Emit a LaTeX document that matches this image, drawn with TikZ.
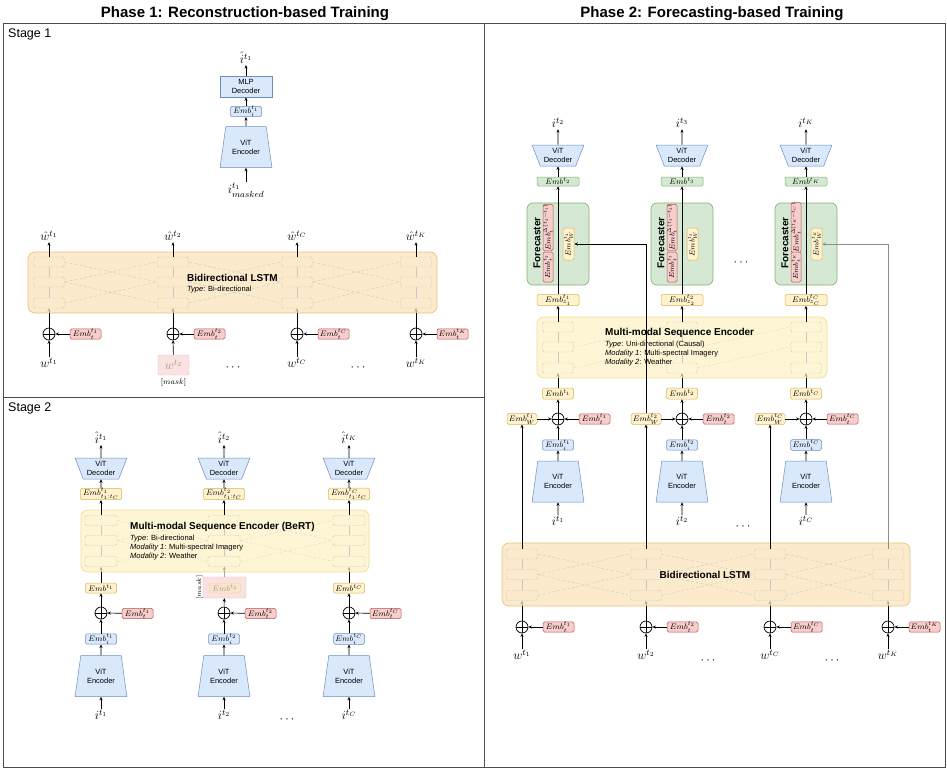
\RequirePackage{fix-cm}
\documentclass[tikz,border=0pt]{standalone}
\usepackage[no-math]{fontspec}
\setmainfont{Liberation Sans}
\usepackage{graphicx}
\usetikzlibrary{arrows.meta,positioning,shapes.geometric}

\newcommand{\embfont}{\fontsize{8}{9}\selectfont}
\newcommand{\rotfont}{\fontsize{7.3}{8}\selectfont}
\newcommand{\lblfont}{\fontsize{12.5}{14}\selectfont}
\newcommand{\boxfont}{\fontsize{7.5}{9.3}\selectfont}
\newcommand{\ttlfont}{\fontsize{10}{12}\selectfont\bfseries}
\newcommand{\typfont}{\fontsize{7.5}{9}\selectfont}

\begin{document}
\begin{tikzpicture}[x=1pt,y=-1pt,
    emb/.style={draw,rounded corners=1.5pt,inner sep=0pt,minimum width=31,minimum height=10,font=\embfont,line width=0.5pt},
    embb/.style={emb,draw=bluD,fill=bluF},
    embr/.style={emb,draw=redD,fill=redF},
    emby/.style={emb,draw=yelD,fill=yelF},
    embg/.style={emb,draw=grnD,fill=grnF},
    vitenc/.style={trapezium,trapezium stretches=true,trapezium left angle=75,trapezium right angle=75,
        minimum width=52,minimum height=41,draw=bluD,fill=bluF,inner sep=0pt,align=center,font=\boxfont,line width=0.5pt},
    vitdec/.style={vitenc,shape border rotate=180,trapezium left angle=66,trapezium right angle=66,minimum height=21},
    oplus/.style={circle,draw,line width=0.7pt,minimum size=12,inner sep=0pt,
        path picture={\draw[line width=0.7pt] (path picture bounding box.north) -- (path picture bounding box.south)
                      (path picture bounding box.west) -- (path picture bounding box.east);}},
    lbl/.style={font=\lblfont,inner sep=1pt},
    arr/.style={-{Stealth[length=3.5pt,width=3pt]},line width=0.6pt},
    faint/.style={arr,draw=black!35},
    cell/.style={draw=black!25,dash pattern=on 1.5pt off 1pt,rounded corners=1.5pt,minimum width=31,minimum height=10,inner sep=0pt,line width=0.4pt},
    link/.style={draw=black!22,densely dashed,line width=0.35pt},
    lstm/.style={draw=orgD,fill=orgF,rounded corners=7pt,line width=0.7pt,inner sep=0pt},
    seqenc/.style={draw=encD,fill=encF,rounded corners=7pt,line width=0.7pt,inner sep=0pt},
    fcast/.style={draw=grnD,fill=grnF,rounded corners=6pt,minimum width=62,minimum height=82,inner sep=0pt,line width=0.6pt},
    masked/.style={draw=redD!40,fill=redF!60,rounded corners=2pt,inner sep=0pt}
]
    \definecolor{bluF}{RGB}{218,232,252}
    \definecolor{bluD}{RGB}{108,142,191}
    \definecolor{redF}{RGB}{248,206,204}
    \definecolor{redD}{RGB}{184,84,80}
    \definecolor{yelF}{RGB}{255,242,204}
    \definecolor{yelD}{RGB}{214,182,86}
    \definecolor{grnF}{RGB}{213,232,212}
    \definecolor{grnD}{RGB}{130,179,102}
    \definecolor{orgF}{RGB}{252,234,204}
    \definecolor{orgD}{RGB}{232,196,125}
    \definecolor{encF}{RGB}{254,245,212}
    \definecolor{encD}{RGB}{240,220,150}

    \useasboundingbox (0,0) rectangle (947,768);

    % frames
    \draw[black!70,line width=0.8pt] (3,23) rectangle (945,767.5);
    \draw[black!70,line width=0.8pt] (484,23) -- (484,767.5);
    \draw[black!70,line width=0.8pt] (3,397) -- (484,397);
    \node (ttl1) [font={\fontsize{15}{18}\selectfont\bfseries}] at (245,14) {Phase 1: Reconstruction-based Training};
    \node (ttl2) [font={\fontsize{15}{18}\selectfont\bfseries}] at (712,14) {Phase 2: Forecasting-based Training};
    \node (stg1) [anchor=west,inner sep=0pt,font=\lblfont] at (8,34) {Stage 1};
    \node (stg2) [anchor=west,inner sep=0pt,font=\lblfont] at (8,408) {Stage 2};

    % stage 1: masked image
    \node (s1in)  [lbl]    at (246,190) {$i^{t_1}_{masked}$};
    \node (s1enc) [vitenc] at (246,147) {ViT\\Encoder};
    \node (s1emb) [embb,minimum height=9] at (246,111.5) {$Emb_i^{t_1}$};
    \node (s1mlp) [draw=bluD,fill=bluF,minimum width=52,minimum height=21,inner sep=0pt,align=center,font=\boxfont,line width=0.5pt]
        at (246,86.5) {MLP\\Decoder};
    \node (s1out) [lbl]    at (246,58) {$\hat{i}^{t_1}$};
    \draw[arr] (s1in) -- (s1enc);
    \draw[arr] (s1enc) -- (s1emb);
    \draw[arr] (s1emb) -- (s1mlp);
    \draw[arr] (s1mlp) -- (s1out);

    % stage 1: weather LSTM
    \node (s1lstm) [lstm,minimum width=409,minimum height=61] at (232.5,282.5) {};
    \foreach \col/\xx in {1/49,2/173,3/297,4/416}
        \foreach \row/\yy in {1/262,2/282,3/303}
            \node (la\col\row) [cell] at (\xx,\yy) {};
    \foreach \col/\nxt in {1/2,2/3,3/4}
        \draw[link] (la\col1.east) -- (la\nxt2.west) (la\col2.east) -- (la\nxt1.west)
                    (la\col2.east) -- (la\nxt3.west) (la\col3.east) -- (la\nxt2.west);
    \foreach \col in {1,...,4}
        \draw[link,solid] (la\col3) -- (la\col2) -- (la\col1);
    \node (s1ttl) [anchor=west,inner sep=0pt,font=\ttlfont] at (187,278) {Bidirectional LSTM};
    \node (s1typ) [anchor=west,inner sep=0pt,font=\typfont] at (187,290) {\textit{Type}: Bi-directional};

    \node (oa1) [lbl] at (49,236)  {$\hat{w}^{t_1}$};
    \node (oa2) [lbl] at (173,236) {$\hat{w}^{t_2}$};
    \node (oa3) [lbl] at (297,236) {$\hat{w}^{t_C}$};
    \node (oa4) [lbl] at (416,236) {$\hat{w}^{t_K}$};
    \node (pa1) [oplus] at (49,334)  {};
    \node (pa2) [oplus] at (173,334) {};
    \node (pa3) [oplus] at (297,334) {};
    \node (pa4) [oplus] at (416,334) {};
    \node (ta1) [embr,minimum height=9] at (85.5,334)  {$Emb_t^{t_1}$};
    \node (ta2) [embr,minimum height=9] at (209.5,334) {$Emb_t^{t_2}$};
    \node (ta3) [embr,minimum height=9] at (333.5,334) {$Emb_t^{t_C}$};
    \node (ta4) [embr,minimum height=9] at (452.5,334) {$Emb_t^{t_K}$};
    \node (wa1) [lbl] at (49,363)  {$w^{t_1}$};
    \node (wa2) [masked,minimum width=31,minimum height=20,text=black!40,font=\lblfont] at (173.5,365) {$w^{t_2}$};
    \node (mka) [font=\fontsize{8}{9}\selectfont,inner sep=0pt,below=3pt of wa2] {$[mask]$};
    \node (wa3) [lbl] at (297,363) {$w^{t_C}$};
    \node (wa4) [lbl] at (416,363) {$w^{t_K}$};
    \node (dta1) [font=\lblfont] at (233,368) {$\cdots$};
    \node (dta2) [font=\lblfont] at (358,368) {$\cdots$};
    \foreach \col in {1,...,4} {
        \draw[arr] (la\col1) -- (oa\col);
        \draw[arr] (wa\col) -- (pa\col);
        \draw[arr] (ta\col) -- (pa\col);
        \draw[line width=0.6pt] (pa\col) -- (pa\col |- s1lstm.south);
        \draw[faint] (pa\col |- s1lstm.south) -- (la\col3);
    }

    % stage 2: multi-modal BeRT
    \node (s2enc) [seqenc,minimum width=288,minimum height=62] at (225,541) {};
    \foreach \col/\xx in {1/101,2/224,3/349}
        \foreach \row/\yy in {1/520.5,2/540.5,3/561.5}
            \node (lb\col\row) [cell,minimum width=32] at (\xx,\yy) {};
    \foreach \col/\nxt in {1/2,2/3}
        \draw[link,draw=black!15] (lb\col1.east) -- (lb\nxt2.west) (lb\col2.east) -- (lb\nxt1.west)
                    (lb\col2.east) -- (lb\nxt3.west) (lb\col3.east) -- (lb\nxt2.west);
    \foreach \col in {1,...,3}
        \draw[link,solid] (lb\col3) -- (lb\col2) -- (lb\col1);
    \node (s2ttl) [anchor=west,inner sep=0pt,font=\ttlfont] at (130,527) {Multi-modal Sequence Encoder (BeRT)};
    \node (s2typ) [anchor=north west,inner sep=0pt,align=left,font=\typfont] at (130,535)
        {\textit{Type}: Bi-directional\\\textit{Modality 1}: Multi-spectral Imagery\\\textit{Modality 2}: Weather};

    \node (s2o1) [lbl] at (101,438) {$\hat{i}^{t_1}$};
    \node (s2o2) [lbl] at (224,438) {$\hat{i}^{t_2}$};
    \node (s2o3) [lbl] at (349,438) {$\hat{i}^{t_K}$};
    \node (s2d1) [vitdec] at (101,468.5) {ViT\\Decoder};
    \node (s2d2) [vitdec] at (224,468.5) {ViT\\Decoder};
    \node (s2d3) [vitdec] at (349,468.5) {ViT\\Decoder};
    \node (s2z1) [emby,minimum width=41] at (101,494) {$Emb^{t_1}_{t_1:t_C}$};
    \node (s2z2) [emby,minimum width=41] at (224,494) {$Emb^{t_2}_{t_1:t_C}$};
    \node (s2z3) [emby,minimum width=41] at (349,494) {$Emb^{t_C}_{t_1:t_C}$};
    \node (s2y1) [emby] at (101,588) {$Emb^{t_1}$};
    \node (s2m2) [masked,minimum width=43,minimum height=21] at (224.5,587.5) {};
    \node (s2y2) [emby,draw=yelD!50,fill=yelF!60!redF,text=black!40] at (225,588) {$Emb^{t_2}$};
    \node (mkb) [rotate=90,inner sep=0pt,font=\fontsize{6.5}{7}\selectfont] at (199.5,587.5) {$[mask]$};
    \node (s2y3) [emby] at (349,588) {$Emb^{t_C}$};
    \node (s2p1) [oplus] at (101,613) {};
    \node (s2p2) [oplus] at (224,613) {};
    \node (s2p3) [oplus] at (349,613) {};
    \node (s2r1) [embr,minimum height=9] at (137.5,613.5) {$Emb_t^{t_1}$};
    \node (s2r2) [embr,minimum height=9] at (260.5,613.5) {$Emb_t^{t_2}$};
    \node (s2r3) [embr,minimum height=9] at (385.5,613.5) {$Emb_t^{t_C}$};
    \node (s2b1) [embb] at (101,639) {$Emb_i^{t_1}$};
    \node (s2b2) [embb] at (224,639) {$Emb_i^{t_2}$};
    \node (s2b3) [embb] at (349,639) {$Emb_i^{t_C}$};
    \node (s2e1) [vitenc] at (101,676) {ViT\\Encoder};
    \node (s2e2) [vitenc] at (224,676) {ViT\\Encoder};
    \node (s2e3) [vitenc] at (349,676) {ViT\\Encoder};
    \node (s2i1) [lbl] at (101,715) {$i^{t_1}$};
    \node (s2i2) [lbl] at (224,715) {$i^{t_2}$};
    \node (s2i3) [lbl] at (349,715) {$i^{t_C}$};
    \node (dtb) [font=\lblfont] at (287,720) {$\cdots$};
    \foreach \col in {1,...,3} {
        \draw[arr] (s2i\col) -- (s2e\col);
        \draw[arr] (s2e\col) -- (s2b\col);
        \draw[arr] (s2b\col) -- (s2p\col);
        \draw[arr] (s2r\col) -- (s2p\col);
        \draw[arr] (lb\col1) -- (s2z\col);
        \draw[arr] (s2z\col) -- (s2d\col);
        \draw[arr] (s2d\col) -- (s2o\col);
    }
    \draw[arr] (s2p1) -- (s2y1);
    \draw[arr] (s2p2) -- (s2m2);
    \draw[arr] (s2p3) -- (s2y3);
    \draw[line width=0.6pt] (s2y1) -- (s2y1 |- s2enc.south);
    \draw[faint] (s2y1 |- s2enc.south) -- (lb13);
    \draw[line width=0.6pt,black!35] (s2m2) -- (s2m2 |- s2enc.south);
    \draw[faint] (s2m2 |- s2enc.south) -- (lb23);
    \draw[line width=0.6pt] (s2y3) -- (s2y3 |- s2enc.south);
    \draw[faint] (s2y3 |- s2enc.south) -- (lb33);

    % phase 2: forecasters
    \node (p2o1) [lbl] at (558,123) {$i^{t_2}$};
    \node (p2o2) [lbl] at (682,123) {$i^{t_3}$};
    \node (p2o3) [lbl] at (806,123) {$i^{t_K}$};
    \node (p2d1) [vitdec] at (558,155.5) {ViT\\Decoder};
    \node (p2d2) [vitdec] at (682,155.5) {ViT\\Decoder};
    \node (p2d3) [vitdec] at (806,155.5) {ViT\\Decoder};
    \node (p2g1) [embg,minimum width=42,minimum height=9] at (558,181.5) {$Emb^{t_2}$};
    \node (p2g2) [embg,minimum width=42,minimum height=9] at (682,181.5) {$Emb^{t_3}$};
    \node (p2g3) [embg,minimum width=42,minimum height=9] at (806,181.5) {$Emb^{t_K}$};

    \node (fc1) [fcast] at (558,244) {};
    \node (fl1) [font=\ttlfont,inner sep=0pt] at (537,243) {\rotatebox{90}{Forecaster}};
    \node (fd1) [embr,font=\rotfont,minimum width=10,minimum height=41] at (548,227.5) {\rotatebox{90}{$Emb_t^{\Delta(t_2-t_1)}$}};
    \node (ft1) [embr,font=\rotfont,minimum width=10,minimum height=30] at (548,267)   {\rotatebox{90}{$Emb_t^{t_2}$}};
    \node (fw1) [emby,font=\rotfont,minimum width=11,minimum height=32] at (568.5,244) {\rotatebox{90}{$Emb_W^{t_2}$}};

    \node (fc2) [fcast] at (682,244) {};
    \node (fl2) [font=\ttlfont,inner sep=0pt] at (661,243) {\rotatebox{90}{Forecaster}};
    \node (fd2) [embr,font=\rotfont,minimum width=10,minimum height=41] at (672,227.5) {\rotatebox{90}{$Emb_t^{\Delta(t_3-t_2)}$}};
    \node (ft2) [embr,font=\rotfont,minimum width=10,minimum height=30] at (672,267)   {\rotatebox{90}{$Emb_t^{t_3}$}};
    \node (fw2) [emby,font=\rotfont,minimum width=11,minimum height=32] at (692.5,244) {\rotatebox{90}{$Emb_W^{t_3}$}};

    \node (fc3) [fcast] at (806,244) {};
    \node (fl3) [font=\ttlfont,inner sep=0pt] at (785,243) {\rotatebox{90}{Forecaster}};
    \node (fd3) [embr,font=\rotfont,minimum width=10,minimum height=41] at (796,227.5) {\rotatebox{90}{$Emb_t^{\Delta(t_K-t_C)}$}};
    \node (ft3) [embr,font=\rotfont,minimum width=10,minimum height=30] at (796,267)   {\rotatebox{90}{$Emb_t^{t_K}$}};
    \node (fw3) [emby,font=\rotfont,minimum width=11,minimum height=32] at (816.5,244) {\rotatebox{90}{$Emb_W^{t_K}$}};
    \node (dtc) [font=\lblfont] at (741,263) {$\cdots$};

    \node (p2z1) [emby,minimum width=42,minimum height=11] at (558,300) {$Emb^{t_1}_{z_1}$};
    \node (p2z2) [emby,minimum width=42,minimum height=11] at (682,300) {$Emb^{t_2}_{z_2}$};
    \node (p2z3) [emby,minimum width=42,minimum height=11] at (806,300) {$Emb^{t_C}_{z_C}$};

    % phase 2: causal multi-modal encoder
    \node (p2enc) [seqenc,minimum width=290,minimum height=61] at (682,347.5) {};
    \foreach \col/\xx in {1/558,2/682,3/806}
        \foreach \row/\yy in {1/327,2/347,3/368}
            \node (lc\col\row) [cell] at (\xx,\yy) {};
    \foreach \col/\nxt in {1/2,2/3}
        \draw[link,draw=black!15] (lc\col2.east) -- (lc\nxt1.west) (lc\col3.east) -- (lc\nxt2.west);
    \foreach \col in {1,...,3}
        \draw[link,solid] (lc\col3) -- (lc\col2) -- (lc\col1);
    \node (p2ttl) [anchor=west,inner sep=0pt,font=\ttlfont] at (605,333) {Multi-modal Sequence Encoder};
    \node (p2typ) [anchor=north west,inner sep=0pt,align=left,font=\typfont] at (605,341)
        {\textit{Type}: Uni-directional (Causal)\\\textit{Modality 1}: Multi-spectral Imagery\\\textit{Modality 2}: Weather};

    \node (p2y1) [emby,minimum height=11] at (558,393.5) {$Emb^{t_1}$};
    \node (p2y2) [emby,minimum height=11] at (682,393.5) {$Emb^{t_2}$};
    \node (p2y3) [emby,minimum height=11] at (806,393.5) {$Emb^{t_C}$};
    \node (p2p1) [oplus] at (558,419) {};
    \node (p2p2) [oplus] at (682,419) {};
    \node (p2p3) [oplus] at (806,419) {};
    \node (p2w1) [emby,minimum width=30] at (522,419) {$Emb_W^{t_1}$};
    \node (p2w2) [emby,minimum width=30] at (646,419) {$Emb_W^{t_2}$};
    \node (p2w3) [emby,minimum width=30] at (770,419) {$Emb_W^{t_C}$};
    \node (p2r1) [embr] at (594.5,419) {$Emb_t^{t_1}$};
    \node (p2r2) [embr] at (718.5,419) {$Emb_t^{t_2}$};
    \node (p2r3) [embr] at (842.5,419) {$Emb_t^{t_C}$};
    \node (p2b1) [embb] at (558,445) {$Emb_i^{t_1}$};
    \node (p2b2) [embb] at (682,445) {$Emb_i^{t_2}$};
    \node (p2b3) [embb] at (806,445) {$Emb_i^{t_C}$};
    \node (p2e1) [vitenc] at (558,481.5) {ViT\\Encoder};
    \node (p2e2) [vitenc] at (682,481.5) {ViT\\Encoder};
    \node (p2e3) [vitenc] at (806,481.5) {ViT\\Encoder};
    \node (p2i1) [lbl] at (558,521) {$i^{t_1}$};
    \node (p2i2) [lbl] at (682,521) {$i^{t_2}$};
    \node (p2i3) [lbl] at (806,521) {$i^{t_C}$};
    \node (dtd) [font=\lblfont] at (743,527) {$\cdots$};
    \foreach \col in {1,...,3} {
        \draw[arr] (p2i\col) -- (p2e\col);
        \draw[arr] (p2e\col) -- (p2b\col);
        \draw[arr] (p2b\col) -- (p2p\col);
        \draw[arr] (p2w\col) -- (p2p\col);
        \draw[arr] (p2r\col) -- (p2p\col);
        \draw[arr] (p2p\col) -- (p2y\col);
        \draw[line width=0.6pt] (p2y\col) -- (p2y\col |- p2enc.south);
        \draw[faint] (p2y\col |- p2enc.south) -- (lc\col3);
        \draw[arr] (lc\col1) -- (p2z\col);
        \draw[arr] (p2z\col) -- (p2g\col);
        \draw[arr] (p2g\col) -- (p2d\col);
        \draw[arr] (p2d\col) -- (p2o\col);
    }

    % phase 2: weather LSTM
    \node (p2lstm) [lstm,minimum width=408,minimum height=63] at (706,574.5) {};
    \foreach \col/\xx in {1/522,2/646,3/770,4/888}
        \foreach \row/\yy in {1/554,2/574.5,3/595.5}
            \node (ld\col\row) [cell] at (\xx,\yy) {};
    \foreach \col/\nxt in {1/2,2/3,3/4}
        \draw[link] (ld\col1.east) -- (ld\nxt2.west) (ld\col2.east) -- (ld\nxt1.west)
                    (ld\col2.east) -- (ld\nxt3.west) (ld\col3.east) -- (ld\nxt2.west);
    \foreach \col in {1,...,4}
        \draw[link,solid] (ld\col3) -- (ld\col2) -- (ld\col1);
    \node (p2lttl) [font=\ttlfont] at (705,575) {Bidirectional LSTM};

    \node (bp1) [oplus] at (522,627) {};
    \node (bp2) [oplus] at (646,627) {};
    \node (bp3) [oplus] at (770,627) {};
    \node (bp4) [oplus] at (888,627) {};
    \node (bt1) [embr] at (558.5,627) {$Emb_t^{t_1}$};
    \node (bt2) [embr] at (682.5,627) {$Emb_t^{t_2}$};
    \node (bt3) [embr] at (806.5,627) {$Emb_t^{t_C}$};
    \node (bt4) [embr] at (924.5,627) {$Emb_t^{t_K}$};
    \node (bw1) [lbl] at (522,655) {$w^{t_1}$};
    \node (bw2) [lbl] at (646,655) {$w^{t_2}$};
    \node (bw3) [lbl] at (770,655) {$w^{t_C}$};
    \node (bw4) [lbl] at (888,655) {$w^{t_K}$};
    \node (dte) [font=\lblfont] at (708,661) {$\cdots$};
    \node (dtf) [font=\lblfont] at (832,661) {$\cdots$};
    \foreach \col in {1,...,4} {
        \draw[arr] (bw\col) -- (bp\col);
        \draw[arr] (bt\col) -- (bp\col);
        \draw[line width=0.6pt] (bp\col) -- (bp\col |- p2lstm.south);
        \draw[faint] (bp\col |- p2lstm.south) -- (ld\col3);
    }
    \draw[arr] (ld11) -- (p2w1);
    \draw[arr] (ld21) -- (p2w2);
    \draw[arr] (ld31) -- (p2w3);
    \draw[arr] (p2w2.north) |- (fw1.east);
    \draw[arr,draw=black!45,line width=0.9pt] (ld41.north) |- (fw3.east);
\end{tikzpicture}
\end{document}
